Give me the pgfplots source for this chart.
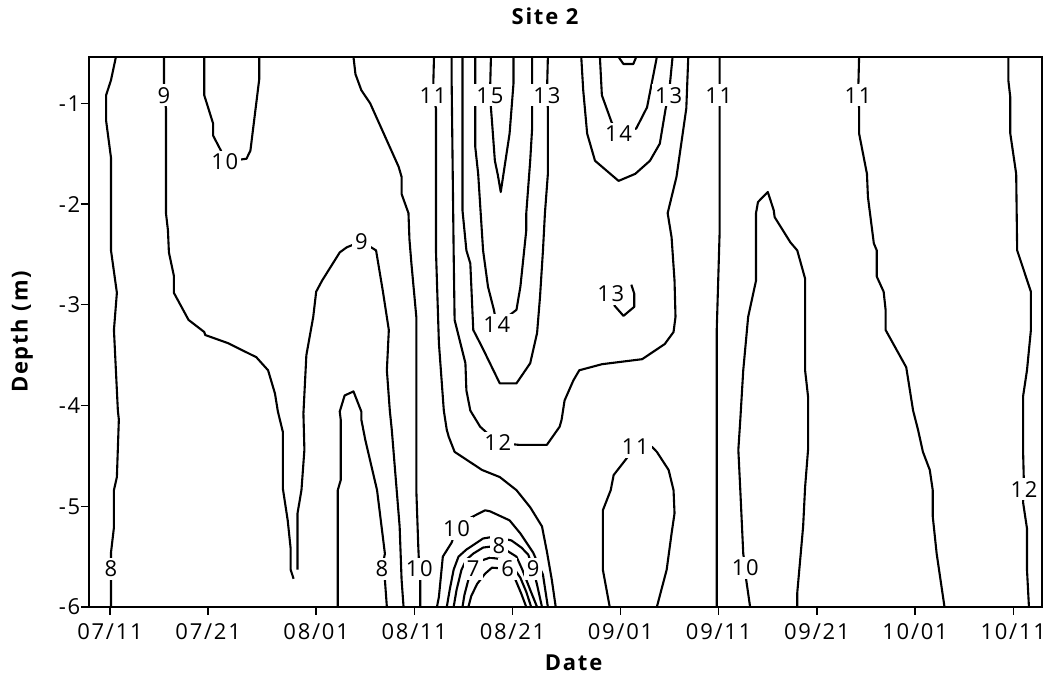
\documentclass[border=0pt]{standalone}
\usepackage{fontspec}
\setmainfont{Open Sans}[LetterSpace=8]
\usepackage{pgfplots}
\usepackage{pgfplotstable}
\pgfplotsset{compat=1.18}

% contour label positions (day of year, depth in m, isotherm value)
\pgfplotstableread{
x y v
197.5 -0.92 9
203.7 -1.58 10
192.1 -5.62 8
217.6 -2.37 9
219.7 -5.62 8
223.5 -5.62 10
224.9 -0.92 11
230.7 -0.92 15
236.5 -0.92 13
231.4 -3.20 14
231.5 -4.37 12
227.3 -5.22 10
231.6 -5.39 8
229.0 -5.62 7
232.5 -5.62 6
235.1 -5.62 9
243.0 -2.89 13
243.8 -1.30 14
248.9 -0.92 13
245.5 -4.41 11
254.0 -0.92 11
256.7 -5.61 10
268.2 -0.92 11
285.1 -4.83 12
}\labels

\begin{document}
\fontsize{22}{26}\selectfont
\begin{tikzpicture}
\begin{axis}[
  width=953pt, height=550pt, scale only axis,
  xmin=189.86, xmax=286.93, ymin=-6, ymax=-0.54,
  xtick={192,202,213,223,233,244,254,264,274,284},
  xticklabels={07/11,07/21,08/01,08/11,08/21,09/01,09/11,09/21,10/01,10/11},
  ytick={-6,-5,-4,-3,-2,-1},
  yticklabels={-6,-5,-4,-3,-2,-1},
  xtick pos=bottom, ytick pos=left,
  tick align=outside, major tick length=8pt,
  tick style={black, line width=1.4pt},
  axis line style={line width=1.8pt},
  ticklabel style={font=\fontsize{22}{26}\selectfont},
  xticklabel style={yshift=-1pt},
  yticklabel style={inner xsep=2pt, xshift=1.5pt},
  title={\bfseries Site 2},
  title style={at={(axis description cs:0.4785,1)}, anchor=center, yshift=35pt, font=\fontsize{22}{26}\selectfont},
  xlabel={\bfseries Date},
  xlabel style={at={(axis description cs:0.5085,0)}, anchor=center, yshift=-56pt, font=\fontsize{22}{26}\selectfont},
  ylabel={\bfseries Depth (m)},
  ylabel style={at={(axis description cs:-0.0703,0.5)}, anchor=center, font=\fontsize{22}{26}\selectfont},
  no markers,
  cl/.style={black, line width=2.1pt, line join=round},
]
% 8 (left)
\addplot[cl] coordinates {(192.6,-0.54)(192.1,-0.77)(191.6,-0.92)(191.6,-1.17)(192.1,-1.54)(192.1,-2.26)(192.1,-2.46)(192.7,-2.88)(192.4,-3.25)(192.6,-3.65)(192.8,-4.05)(192.9,-4.14)(192.7,-4.71)(192.4,-4.84)(192.4,-5.21)(192.1,-5.46)(192.1,-6)};
% 9 (left)
\addplot[cl] coordinates {(197.5,-0.54)(197.5,-0.92)(197.7,-1.05)(197.7,-2.09)(197.9,-2.26)(198.0,-2.48)(198.5,-2.71)(198.5,-2.88)(200.0,-3.15)(201.6,-3.27)(201.7,-3.30)(204.0,-3.38)(206.9,-3.52)(208.1,-3.65)(208.8,-3.88)(209.1,-4.06)(209.6,-4.26)(209.6,-4.82)(210.1,-5.14)(210.4,-5.42)(210.4,-5.63)(210.7,-5.72)};
% 10 (upper left)
\addplot[cl] coordinates {(201.6,-0.54)(201.6,-0.92)(202.5,-1.20)(202.5,-1.32)(203.3,-1.47)(203.7,-1.58)(205.9,-1.55)(206.3,-1.47)(207.2,-0.76)(207.2,-0.54)};
% 9 (around the 8 bump)
\addplot[cl] coordinates {(211.1,-5.63)(211.1,-5.07)(211.5,-4.84)(211.8,-4.44)(211.7,-4.08)(212.0,-3.50)(212.7,-3.12)(213.0,-2.87)(213.6,-2.76)(215.4,-2.48)(216.1,-2.43)(217.6,-2.37)(219.1,-2.46)(219.8,-2.87)(220.4,-3.25)(220.2,-3.65)(220.5,-4.05)(220.7,-4.24)(220.9,-4.48)(221.5,-5.20)(221.7,-5.73)(221.9,-6)};
% 8 (bump)
\addplot[cl] coordinates {(215.2,-6)(215.2,-4.84)(215.5,-4.74)(215.5,-4.14)(215.4,-4.06)(215.9,-3.90)(216.8,-3.86)(217.6,-4.06)(217.6,-4.14)(218.0,-4.34)(219.2,-4.84)(220.0,-5.47)(219.7,-5.62)(220.0,-5.73)(220.2,-6)};
% 10
\addplot[cl] coordinates {(216.8,-0.54)(217.0,-0.71)(217.6,-0.87)(218.5,-1.00)(221.4,-1.63)(221.7,-1.73)(221.7,-1.90)(222.4,-2.09)(222.5,-2.35)(222.7,-2.59)(223.2,-3.12)(223.2,-4.84)(223.4,-5.40)(223.5,-5.62)(223.6,-5.73)(223.6,-6)};
% 11
\addplot[cl] coordinates {(225.0,-0.54)(224.9,-0.92)(225.2,-1.05)(225.2,-2.46)(225.5,-3.38)(226.0,-4.05)(226.3,-4.24)(226.5,-4.31)(227.1,-4.46)(229.9,-4.64)(231.7,-4.71)(233.4,-4.84)(234.8,-5.01)(236.0,-5.20)(236.5,-5.45)(237.0,-5.73)(237.4,-6)};
% 12
\addplot[cl] coordinates {(226.8,-0.54)(226.8,-0.80)(227.0,-2.46)(227.1,-3.15)(228.2,-3.58)(228.3,-3.85)(228.7,-4.05)(229.7,-4.21)(231.5,-4.37)(233.6,-4.39)(236.5,-4.39)(237.8,-4.21)(238.0,-4.14)(238.3,-3.95)(239.2,-3.75)(239.8,-3.65)(242.1,-3.59)(246.2,-3.54)(248.5,-3.39)(249.4,-3.27)(249.6,-3.12)(249.5,-2.76)(249.2,-2.33)(248.8,-2.09)(249.7,-1.73)(250.7,-1.05)(250.9,-0.54)};
% 13
\addplot[cl] coordinates {(227.9,-0.54)(227.9,-2.06)(228.3,-2.46)(228.7,-2.59)(229.0,-3.25)(229.9,-3.42)(231.7,-3.78)(233.4,-3.78)(234.8,-3.58)(235.5,-3.28)(235.8,-2.92)(236.1,-2.46)(236.3,-2.09)(236.6,-1.70)(236.6,-1.05)(236.5,-0.92)(236.6,-0.54)};
% 14
\addplot[cl] coordinates {(229.2,-0.54)(229.2,-1.43)(229.5,-1.70)(230.0,-2.46)(230.5,-2.82)(231.1,-3.05)(231.4,-3.20)(233.4,-3.05)(233.8,-2.82)(234.4,-2.26)(234.4,-2.09)(234.8,-1.57)(235.0,-1.24)(235.0,-0.54)};
% 15
\addplot[cl] coordinates {(230.8,-0.54)(230.7,-0.92)(230.9,-1.17)(231.2,-1.57)(231.5,-1.71)(231.8,-1.88)(232.7,-1.30)(233.1,-0.80)(233.1,-0.54)};
% 13 (upper right)
\addplot[cl] coordinates {(240.0,-0.54)(240.2,-0.87)(240.6,-1.30)(241.4,-1.57)(243.8,-1.77)(245.5,-1.70)(247.0,-1.57)(248.0,-1.40)(248.6,-1.05)(248.9,-0.92)(249.0,-0.84)(249.3,-0.54)};
% 14 (upper right)
\addplot[cl] coordinates {(241.9,-0.54)(242.1,-0.92)(243.1,-1.19)(243.8,-1.30)(245.6,-1.25)(246.7,-1.04)(247.7,-0.54)};
% 15 (upper right)
\addplot[cl] coordinates {(243.8,-0.54)(244.3,-0.61)(245.3,-0.61)(245.6,-0.54)};
% 13 (small)
\addplot[cl] coordinates {(245.1,-2.80)(245.4,-2.89)(245.4,-3.02)(244.3,-3.11)(243.4,-3.01)(243.0,-2.89)};
% 11 (closed at the bottom)
\addplot[cl] coordinates {(242.9,-6)(242.2,-5.63)(242.2,-5.04)(243.0,-4.84)(243.3,-4.69)(244.5,-4.54)(245.5,-4.41)(247.2,-4.41)(247.7,-4.46)(248.9,-4.64)(249.4,-4.84)(249.5,-5.07)(249.2,-5.27)(248.7,-5.63)(247.7,-6)};
% 11 (09/11)
\addplot[cl] coordinates {(254.1,-0.54)(254.1,-1.05)(254.1,-2.26)(253.8,-3.25)(253.8,-6)};
% 10 (right)
\addplot[cl] coordinates {(257.2,-6)(256.8,-5.73)(256.7,-5.61)(256.5,-5.47)(256.2,-4.84)(256.0,-4.44)(256.2,-4.14)(256.5,-3.65)(257.0,-3.12)(257.8,-2.76)(257.8,-2.09)(258.0,-1.98)(259.0,-1.88)(259.6,-2.06)(259.7,-2.13)(261.3,-2.38)(262.0,-2.46)(262.8,-2.74)(262.8,-3.65)(263.1,-3.91)(263.1,-4.44)(262.8,-4.81)(262.6,-5.20)(262.3,-5.53)(262.0,-5.86)(262.0,-6)};
% 11 (right)
\addplot[cl] coordinates {(268.3,-0.54)(268.2,-0.92)(268.3,-1.05)(268.3,-1.30)(269.1,-1.70)(269.2,-1.93)(269.8,-2.39)(270.1,-2.46)(270.1,-2.72)(270.8,-2.87)(271.0,-3.05)(271.0,-3.25)(273.1,-3.62)(273.8,-4.05)(274.3,-4.24)(274.8,-4.46)(275.5,-4.64)(275.8,-4.84)(275.8,-5.10)(276.2,-5.47)(277.0,-6)};
% 12 (right)
\addplot[cl] coordinates {(283.5,-0.54)(283.5,-0.77)(283.7,-0.94)(283.7,-1.30)(284.3,-1.70)(284.4,-2.46)(285.8,-2.87)(285.8,-3.25)(285.4,-3.65)(285.0,-3.91)(285.0,-4.44)(285.1,-4.83)(285.0,-4.96)(285.4,-5.22)(285.4,-5.63)(285.6,-6)};
% caps near the bottom, 08/21
\addplot[cl] coordinates {(225.3,-6)(225.5,-5.90)(225.8,-5.60)(225.9,-5.50)(226.8,-5.36)(227.3,-5.22)(228.8,-5.11)(230.2,-5.04)(230.7,-5.05)(232.7,-5.14)(233.8,-5.27)(235.1,-5.46)(236.1,-5.68)(236.6,-6)};
\addplot[cl] coordinates {(226.3,-6)(226.6,-5.83)(227.0,-5.63)(227.5,-5.50)(228.3,-5.43)(230.0,-5.32)(231.2,-5.30)(232.9,-5.34)(233.9,-5.41)(234.6,-5.48)(235.1,-5.62)(235.5,-5.78)(236.0,-6)};
\addplot[cl] coordinates {(227.0,-6)(227.3,-5.83)(227.8,-5.63)(228.3,-5.53)(229.0,-5.47)(230.0,-5.41)(231.6,-5.39)(233.4,-5.50)(234.0,-5.63)(234.8,-5.83)(235.5,-6)};
\addplot[cl] coordinates {(227.9,-6)(228.1,-5.88)(228.5,-5.73)(229.0,-5.62)(229.5,-5.55)(230.7,-5.51)(232.2,-5.53)(232.9,-5.58)(233.8,-5.71)(234.4,-5.85)(234.9,-6)};
\addplot[cl] coordinates {(228.5,-6)(228.8,-5.89)(229.4,-5.77)(230.2,-5.67)(230.9,-5.61)(232.5,-5.62)(233.3,-5.73)(233.9,-5.87)(234.4,-6)};
% contour values
\addplot[draw=none, nodes near coords, point meta=explicit symbolic,
  every node near coord/.append style={anchor=center, fill=white, inner sep=3pt,
    font=\fontsize{22}{26}\selectfont}]
  table[x=x, y=y, meta=v] {\labels};
\end{axis}
\pgfresetboundingbox
\path[use as bounding box] ([shift={(-89pt,-75pt)}]current axis.south west) rectangle ++(1045pt,682pt);
\end{tikzpicture}
\end{document}
